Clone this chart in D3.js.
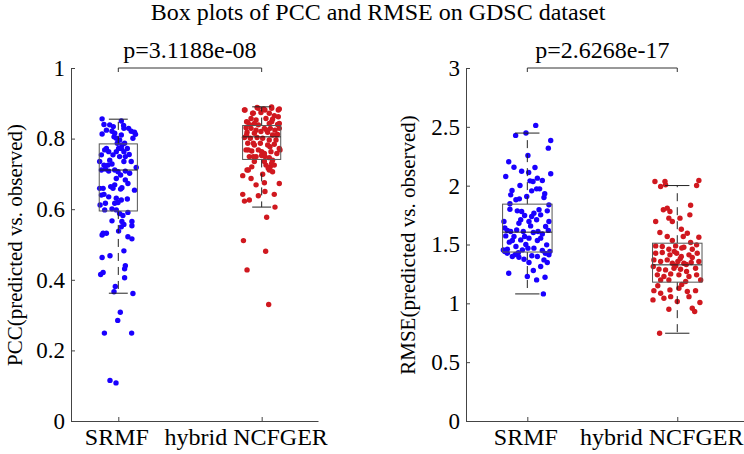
<!DOCTYPE html>
<html>
<head>
<meta charset="utf-8">
<script src="https://cdn.jsdelivr.net/npm/d3@7"></script>
<style>
  body { margin: 0; background: #fff; }
  svg { display: block; }
</style>
</head>
<body>
<svg id="chart" width="744" height="454"></svg>
<script>
// categories and tick labels
const categories = ["SRMF", "hybrid NCFGER"];
const pccTicks = [0, 0.2, 0.4, 0.6, 0.8, 1];
const rmseTicks = [0, 0.5, 1, 1.5, 2, 2.5, 3];
const pValues = ["p=3.1188e-08", "p=2.6268e-17"];

// box statistics: [SRMF, hybrid NCFGER]
const pccLowWhisker = [0.362, 0.606];
const pccQ1 = [0.595, 0.741];
const pccMedian = [0.711, 0.805];
const pccQ3 = [0.785, 0.837];
const pccHighWhisker = [0.855, 0.890];

const rmseLowWhisker = [1.080, 0.746];
const rmseQ1 = [1.436, 1.180];
const rmseMedian = [1.605, 1.327];
const rmseQ3 = [1.843, 1.511];
const rmseHighWhisker = [2.447, 2.001];

// scatter points: [x jitter, value]
const pccSRMF = [[-0.113,0.856],[-0.100,0.840],[-0.060,0.839],[-0.035,0.834],[0.021,0.850],[0.037,0.837],[0.039,0.829],[-0.083,0.824],[-0.044,0.821],[-0.113,0.813],[-0.025,0.815],[0.072,0.829],[0.090,0.821],[0.113,0.818],[0.102,0.801],[0.120,0.812],[-0.030,0.805],[-0.014,0.801],[0.021,0.810],[0.009,0.796],[0.025,0.782],[-0.007,0.787],[0.044,0.787],[0.002,0.772],[0.021,0.772],[0.063,0.772],[-0.083,0.772],[-0.095,0.768],[-0.067,0.763],[-0.014,0.763],[0.039,0.763],[0.076,0.755],[-0.118,0.754],[-0.037,0.754],[0.049,0.749],[0.009,0.749],[-0.060,0.739],[-0.130,0.735],[-0.100,0.725],[-0.072,0.725],[-0.044,0.728],[0.039,0.735],[0.090,0.735],[0.125,0.718],[-0.090,0.714],[-0.067,0.708],[-0.025,0.711],[-0.002,0.706],[0.016,0.697],[0.049,0.708],[0.079,0.702],[-0.118,0.711],[-0.014,0.687],[0.049,0.683],[0.067,0.673],[-0.025,0.669],[0.016,0.657],[-0.130,0.659],[-0.106,0.659],[-0.053,0.664],[-0.037,0.659],[0.025,0.661],[0.113,0.654],[-0.118,0.640],[-0.100,0.642],[-0.067,0.635],[-0.014,0.631],[0.021,0.626],[0.063,0.629],[-0.025,0.617],[-0.002,0.619],[-0.090,0.617],[-0.127,0.612],[-0.095,0.598],[-0.044,0.601],[-0.014,0.598],[0.009,0.588],[0.032,0.582],[0.067,0.591],[-0.044,0.567],[0.025,0.565],[0.039,0.557],[0.095,0.565],[0.095,0.553],[0.021,0.550],[0.002,0.538],[-0.106,0.532],[-0.083,0.532],[-0.113,0.527],[0.067,0.522],[0.095,0.516],[0.039,0.482],[-0.113,0.463],[-0.058,0.468],[0.049,0.440],[0.044,0.431],[-0.123,0.415],[-0.106,0.421],[0.044,0.406],[-0.021,0.381],[-0.030,0.366],[0.102,0.361],[0.014,0.308],[-0.004,0.285],[-0.097,0.249],[0.093,0.249],[-0.058,0.115],[-0.016,0.108]];

const pccHybrid = [[-0.120,0.881],[-0.032,0.888],[0.014,0.884],[0.069,0.890],[0.123,0.884],[-0.063,0.872],[-0.005,0.874],[0.053,0.872],[0.088,0.865],[0.116,0.862],[-0.074,0.857],[-0.039,0.853],[0.030,0.857],[0.076,0.855],[-0.097,0.846],[-0.051,0.843],[-0.023,0.839],[0.053,0.843],[0.111,0.840],[-0.109,0.831],[-0.074,0.829],[-0.039,0.824],[0.019,0.829],[0.060,0.829],[0.093,0.824],[0.123,0.829],[-0.102,0.818],[-0.051,0.815],[-0.005,0.820],[0.042,0.818],[0.076,0.810],[0.111,0.812],[-0.120,0.803],[-0.079,0.801],[-0.032,0.803],[0.007,0.801],[0.053,0.796],[0.100,0.796],[-0.097,0.787],[-0.051,0.782],[-0.009,0.787],[0.042,0.782],[0.088,0.784],[0.123,0.772],[-0.109,0.768],[-0.069,0.765],[-0.023,0.768],[0.019,0.758],[0.065,0.763],[0.106,0.758],[-0.086,0.749],[-0.039,0.749],[0.000,0.752],[0.053,0.746],[-0.051,0.735],[0.019,0.735],[0.076,0.739],[0.030,0.725],[0.060,0.720],[0.088,0.725],[0.053,0.711],[0.076,0.706],[-0.069,0.720],[-0.102,0.711],[-0.132,0.695],[-0.074,0.687],[0.007,0.699],[0.123,0.673],[-0.039,0.669],[0.019,0.675],[-0.132,0.642],[-0.023,0.638],[0.023,0.650],[0.088,0.642],[-0.120,0.623],[-0.086,0.626],[0.093,0.606],[0.035,0.577],[-0.127,0.511],[0.028,0.481],[-0.102,0.428],[0.049,0.330],[-0.116,0.881],[-0.058,0.872],[-0.024,0.886],[0.023,0.881],[0.070,0.886],[0.116,0.881],[-0.105,0.848],[-0.082,0.839],[0.070,0.848],[0.123,0.843],[0.035,0.824],[-0.105,0.810],[0.105,0.810],[-0.058,0.787],[0.058,0.777],[-0.093,0.768],[0.000,0.763],[0.128,0.768],[-0.058,0.749],[0.023,0.749],[0.070,0.730],[0.046,0.716],[-0.093,0.711]];

const rmseSRMF = [[0.056,2.512],[-0.078,2.427],[-0.009,2.447],[0.156,2.384],[0.140,2.319],[0.004,2.257],[-0.124,2.203],[-0.089,2.157],[0.051,2.155],[-0.038,2.123],[-0.144,2.078],[0.009,2.112],[0.156,2.101],[0.067,2.064],[0.100,2.044],[0.018,2.041],[0.038,2.036],[-0.049,2.002],[0.062,1.973],[0.082,1.973],[-0.102,1.959],[0.029,1.956],[0.116,1.931],[-0.111,1.922],[-0.004,1.908],[-0.053,1.888],[-0.076,1.880],[0.111,1.899],[-0.116,1.846],[0.144,1.837],[-0.116,1.800],[-0.067,1.786],[-0.038,1.780],[0.078,1.795],[0.133,1.786],[0.044,1.766],[-0.018,1.746],[0.029,1.738],[0.089,1.752],[-0.156,1.695],[-0.044,1.710],[-0.056,1.681],[0.011,1.695],[0.062,1.710],[0.144,1.695],[0.022,1.658],[0.122,1.653],[-0.133,1.619],[-0.111,1.610],[-0.071,1.624],[-0.027,1.610],[0.040,1.602],[0.071,1.610],[-0.144,1.573],[-0.089,1.568],[-0.018,1.568],[0.089,1.554],[-0.100,1.534],[-0.044,1.539],[0.011,1.554],[0.067,1.534],[0.129,1.497],[-0.160,1.454],[-0.133,1.460],[-0.076,1.483],[-0.033,1.454],[0.004,1.469],[0.044,1.469],[0.100,1.449],[0.144,1.412],[-0.133,1.426],[-0.100,1.398],[-0.056,1.392],[-0.022,1.375],[0.067,1.398],[0.111,1.369],[0.133,1.347],[0.011,1.347],[0.089,1.313],[0.040,1.279],[-0.124,1.256],[0.000,1.228],[0.118,1.222],[0.062,1.199],[0.107,1.080],[-0.150,1.440],[-0.060,1.430],[0.120,1.425],[-0.080,1.415],[0.030,1.405],[0.150,1.440],[-0.010,1.500],[-0.120,1.520],[0.100,1.590],[-0.150,1.640],[0.140,1.620]];

const rmseHybrid = [[-0.149,2.036],[-0.082,2.036],[-0.111,1.993],[-0.078,2.007],[0.144,2.044],[0.129,2.001],[0.089,1.834],[0.084,1.752],[-0.093,1.795],[-0.067,1.809],[-0.049,1.780],[-0.056,1.724],[-0.033,1.695],[0.018,1.724],[-0.144,1.695],[0.027,1.630],[-0.116,1.602],[0.067,1.596],[0.144,1.562],[-0.067,1.568],[0.040,1.568],[-0.033,1.534],[0.089,1.517],[0.129,1.497],[-0.144,1.488],[-0.100,1.483],[-0.056,1.460],[-0.011,1.488],[0.044,1.477],[0.100,1.460],[-0.144,1.426],[-0.100,1.432],[-0.049,1.412],[-0.004,1.426],[0.027,1.398],[0.078,1.412],[0.133,1.426],[-0.156,1.369],[-0.111,1.355],[-0.067,1.369],[-0.033,1.341],[0.004,1.355],[0.044,1.341],[0.093,1.347],[0.144,1.355],[-0.160,1.313],[-0.122,1.290],[-0.078,1.284],[-0.022,1.298],[0.022,1.290],[0.062,1.270],[0.122,1.298],[-0.133,1.242],[-0.089,1.228],[-0.044,1.250],[0.011,1.242],[0.078,1.228],[0.129,1.242],[-0.111,1.199],[-0.056,1.199],[0.056,1.185],[0.156,1.199],[-0.156,1.108],[-0.111,1.086],[-0.049,1.114],[0.011,1.128],[0.067,1.100],[0.122,1.108],[-0.162,1.029],[-0.089,1.043],[-0.044,1.057],[0.000,1.015],[0.078,1.057],[0.151,1.007],[-0.056,0.950],[0.100,0.958],[0.116,0.930],[-0.118,0.746],[0.020,1.380],[-0.010,1.320],[0.060,1.330],[0.100,1.390],[-0.020,1.440],[0.030,1.470],[-0.130,1.150],[0.030,1.160]];

const blue = "#1a00ff";
const red = "#d0181f";
const serif = '"Liberation Serif", "Times New Roman", serif';

const svg = d3.select("#chart");

svg.append("text")
  .attr("x", 378)
  .attr("y", 20)
  .attr("text-anchor", "middle")
  .style("font-family", serif)
  .style("font-size", "24px")
  .text("Box plots of PCC and RMSE on GDSC dataset");

function drawPanel(p) {
  const x = d3.scaleLinear().domain(p.xDomain).range(p.xRange);
  const y = d3.scaleLinear().domain(p.yDomain).range([421, 68]);
  const g = svg.append("g");

  // y axis, ticks inward
  g.append("g")
    .attr("transform", `translate(${p.xRange[0]},0)`)
    .call(d3.axisLeft(y).tickValues(p.yTicks).tickSize(-4).tickSizeOuter(0).tickPadding(6).tickFormat(d => String(d)))
    .call(a => a.selectAll("text").style("font-family", serif).style("font-size", "23px").attr("fill", "#000"))
    .call(a => a.selectAll("path,line").attr("stroke", "#444"));

  // x axis; the long label sits a little left of its tick, as in the original
  g.append("g")
    .attr("transform", "translate(0,421)")
    .call(d3.axisBottom(x).tickValues([1, 2]).tickSize(-4).tickSizeOuter(0).tickPadding(7).tickFormat(d => categories[d - 1]))
    .call(a => a.selectAll("text")
      .style("font-family", serif).style("font-size", "24px").attr("fill", "#000")
      .attr("dx", d => d === 2 ? -16 : -2))
    .call(a => a.selectAll("path,line").attr("stroke", "#444"));

  // y label
  g.append("text")
    .attr("transform", `translate(${p.labelX},245) rotate(-90)`)
    .attr("text-anchor", "middle")
    .style("font-family", serif)
    .style("font-size", "21px")
    .text(p.yLabel);

  // jittered points
  p.series.forEach((pts, i) => {
    g.append("g").selectAll("circle")
      .data(pts)
      .enter()
      .append("circle")
      .attr("cx", d => x(i + 1 + d[0]))
      .attr("cy", d => y(d[1]))
      .attr("r", 2.7)
      .attr("fill", p.colors[i]);
  });

  // boxes drawn over the points
  categories.forEach((c, i) => {
    const cx = x(i + 1);
    const bx0 = x(i + 1 - p.boxHalf), bx1 = x(i + 1 + p.boxHalf);
    const cx0 = x(i + 1 - p.capHalf), cx1 = x(i + 1 + p.capHalf);
    const b = g.append("g").attr("fill", "none");
    b.append("line").attr("x1", cx).attr("x2", cx)
      .attr("y1", y(p.q3[i])).attr("y2", y(p.hi[i]))
      .attr("stroke", "#222").attr("stroke-dasharray", "8,6");
    b.append("line").attr("x1", cx).attr("x2", cx)
      .attr("y1", y(p.q1[i])).attr("y2", y(p.lo[i]))
      .attr("stroke", "#222").attr("stroke-dasharray", "8,6");
    b.append("line").attr("x1", cx0).attr("x2", cx1)
      .attr("y1", y(p.hi[i])).attr("y2", y(p.hi[i])).attr("stroke", "#222");
    b.append("line").attr("x1", cx0).attr("x2", cx1)
      .attr("y1", y(p.lo[i])).attr("y2", y(p.lo[i])).attr("stroke", "#222");
    b.append("rect")
      .attr("x", bx0).attr("y", y(p.q3[i]))
      .attr("width", bx1 - bx0).attr("height", y(p.q1[i]) - y(p.q3[i]))
      .attr("stroke", "#555");
    b.append("line").attr("x1", bx0).attr("x2", bx1)
      .attr("y1", y(p.med[i])).attr("y2", y(p.med[i])).attr("stroke", "#222");
  });

  // significance bracket
  const top = y(p.yDomain[1]);
  g.append("path")
    .attr("d", `M${x(1)},${top + 4}V${top}H${x(2)}V${top + 4}`)
    .attr("fill", "none")
    .attr("stroke", "#333");
  g.append("text")
    .attr("x", (x(1) + x(2)) / 2)
    .attr("y", top - 10)
    .attr("text-anchor", "middle")
    .style("font-family", serif)
    .style("font-size", "24px")
    .text(p.pText);
}

drawPanel({
  xRange: [71, 318], xDomain: [0.670, 2.393], yDomain: [0, 1], yTicks: pccTicks,
  labelX: 22, yLabel: "PCC(predicted vs. observed)",
  series: [pccSRMF, pccHybrid], colors: [blue, red],
  lo: pccLowWhisker, q1: pccQ1, med: pccMedian, q3: pccQ3, hi: pccHighWhisker,
  boxHalf: 0.133, capHalf: 0.066, pText: pValues[0]
});

drawPanel({
  xRange: [466, 744], xDomain: [0.591, 2.445], yDomain: [0, 3], yTicks: rmseTicks,
  labelX: 415, yLabel: "RMSE(predicted vs. observed)",
  series: [rmseSRMF, rmseHybrid], colors: [blue, red],
  lo: rmseLowWhisker, q1: rmseQ1, med: rmseMedian, q3: rmseQ3, hi: rmseHighWhisker,
  boxHalf: 0.165, capHalf: 0.081, pText: pValues[1]
});
</script>
</body>
</html>
